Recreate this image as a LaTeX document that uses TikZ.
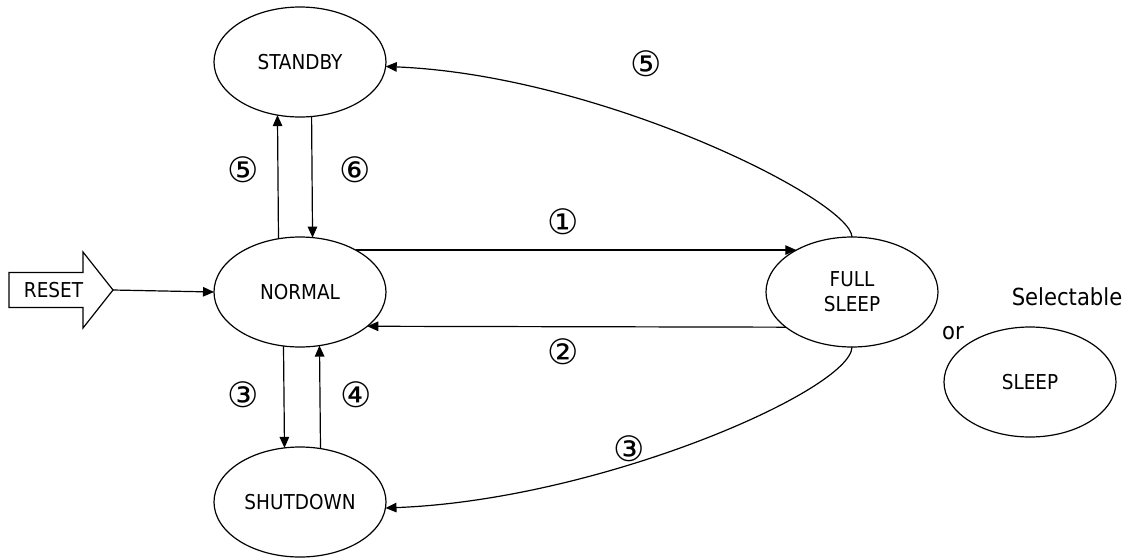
\documentclass[tikz,border=0pt]{standalone}
\usepackage{fontspec}
\setmainfont{DejaVu Sans Condensed}
\newfontfamily\circfont{DejaVu Sans}
\usetikzlibrary{positioning, arrows.meta, shapes.geometric}

\begin{document}
\begin{tikzpicture}[x=1pt, y=-1pt, on grid, line width=1.2pt,
    >={Triangle[length=11pt, width=9.5pt]},
    mode/.style={draw, ellipse, minimum width=172pt, minimum height=110pt,
        inner sep=0pt, outer sep=0pt, align=center,
        font=\fontsize{20.5}{25}\selectfont},
    num/.style={font=\circfont\fontsize{35}{35}\selectfont, inner sep=0pt}]
    \useasboundingbox (0,0) rectangle (1130,558);

    % states
    \node[mode] (normal) at (300,292) {NORMAL};
    \node[mode, above=230pt of normal] (standby) {STANDBY};
    \node[mode, below=210pt of normal] (shutdown) {SHUTDOWN};
    \node[mode, right=552pt of normal] (fullsleep) {FULL\\SLEEP};
    \node[mode, below right=90pt and 178pt of fullsleep] (sleep) {SLEEP};
    \node[font=\fontsize{23.5}{28}\selectfont] (select) at (1067,297) {Selectable};
    \node[font=\fontsize{23.5}{28}\selectfont] (or) at (953,333) {or};

    % reset input
    \draw (9,272.5) -- (83,272.5) -- (83,252) -- (113,290) -- (83,328)
        -- (83,307.5) -- (9,307.5) -- cycle;
    \node[font=\fontsize{20.5}{25}\selectfont] (reset) at (53.5,290) {RESET};
    \coordinate (resettip) at (113,290);

    \path[->]
        (resettip) edge (normal.west)
        % standby
        (normal.112.5) edge (standby.247.5)
        (standby.282.4) edge (normal.77.6)
        % full sleep
        (normal.37) edge (fullsleep.143)
        (fullsleep.-152.2) edge (normal.-27.8)
        % shutdown
        (normal.253.5) edge (shutdown.106.5)
        (shutdown.69.5) edge (normal.290.5);
    \draw[->] (fullsleep.north) .. controls (851,200) and (600,75) .. (standby.-3);
    \draw[->] (fullsleep.south) .. controls (851,390) and (600,500) .. (shutdown.-4);

    % transition numbers
    \node[num] (n5a) at (243,170) {⑤};
    \node[num] (n6) at (355,170) {⑥};
    \node[num] (n1) at (563,222) {①};
    \node[num] (n2) at (563,352) {②};
    \node[num] (n3a) at (243,395) {③};
    \node[num] (n4) at (356,395) {④};
    \node[num] (n5b) at (646,64) {⑤};
    \node[num] (n3b) at (629,449) {③};
\end{tikzpicture}
\end{document}
